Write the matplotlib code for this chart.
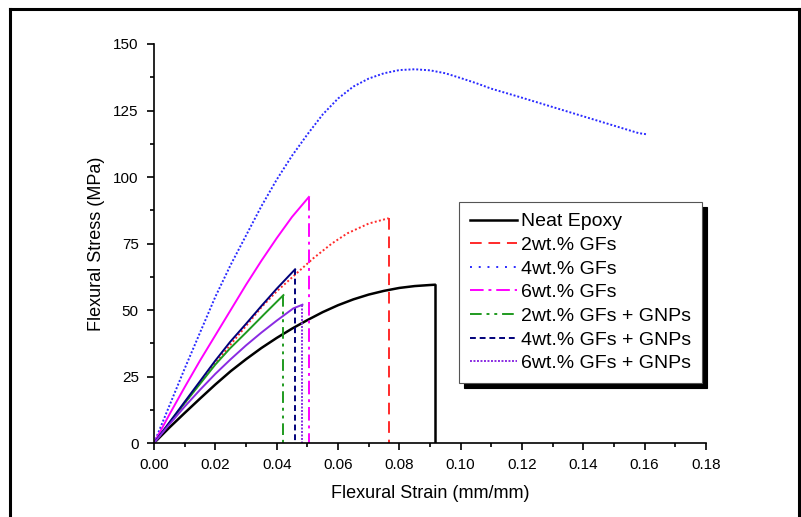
import numpy as np
import matplotlib
matplotlib.use("Agg")
import matplotlib.pyplot as plt
from matplotlib.lines import Line2D
from matplotlib.ticker import MultipleLocator

plt.rcParams.update({
    "font.family": ["Liberation Sans", "DejaVu Sans"],
    "font.size": 11})

neat_strain = [0, 0.005, 0.01, 0.015, 0.02, 0.025, 0.03, 0.035, 0.04, 0.045, 0.05,
               0.055, 0.06, 0.065, 0.07, 0.075, 0.08, 0.085, 0.09, 0.0915]
neat_stress = [0, 5.8, 11.3, 16.7, 22, 27, 31.5, 35.7, 39.5, 43, 46.2,
               49.2, 51.8, 54, 55.8, 57.2, 58.3, 59, 59.4, 59.5]

gf2_strain = [0, 0.01, 0.02, 0.0248, 0.03, 0.035, 0.04, 0.0465, 0.052, 0.058, 0.063, 0.07, 0.0765]
gf2_stress = [0, 15, 30, 36.8, 44, 51, 57, 63.8, 69.5, 75, 78.8, 82.5, 84.5]

gf4_strain = [0, 0.005, 0.01, 0.015, 0.02, 0.025, 0.03, 0.035, 0.04, 0.045, 0.05, 0.055,
              0.06, 0.065, 0.07, 0.075, 0.08, 0.085, 0.09, 0.095, 0.10, 0.105, 0.11,
              0.12, 0.13, 0.14, 0.15, 0.158, 0.161]
gf4_stress = [0, 14, 28, 41.5, 55, 67, 78, 89, 99, 108, 116, 123.5,
              129.5, 134, 137, 139, 140.2, 140.5, 140.1, 139, 137.2, 135.3, 133.2,
              129.8, 126.3, 122.8, 119.3, 116.5, 116]

gf6_strain = [0, 0.005, 0.01, 0.015, 0.02, 0.025, 0.03, 0.035, 0.04, 0.045, 0.0505]
gf6_stress = [0, 10.7, 21, 31, 40.5, 50, 59.5, 68.5, 77, 85, 92.5]

gnp2_strain = [0, 0.01, 0.02, 0.0248, 0.03, 0.036, 0.0422]
gnp2_stress = [0, 15, 29.5, 35.6, 41.5, 48.5, 55.6]

gnp4_strain = [0, 0.01, 0.02, 0.0248, 0.03, 0.035, 0.04, 0.046]
gnp4_stress = [0, 15.5, 31, 38, 44.8, 51.5, 58, 65.3]

gnp6_strain = [0, 0.005, 0.01, 0.015, 0.02, 0.025, 0.03, 0.035, 0.04, 0.0454, 0.0484]
gnp6_stress = [0, 7, 13.7, 20, 26, 31.5, 36.7, 41.5, 46, 50.6, 52]

labels = ['Neat Epoxy', '2wt.% GFs', '4wt.% GFs', '6wt.% GFs',
          '2wt.% GFs + GNPs', '4wt.% GFs + GNPs', '6wt.% GFs + GNPs']

# (strain, stress, Farbe, Kurvenstil, Bruchstil, Bruch?)
series = [
    (neat_strain, neat_stress, 'black', '-', '-', True),
    (gf2_strain, gf2_stress, '#ff2a2a', (0, (1, 1.2)), (0, (6, 3.5)), True),
    (gf4_strain, gf4_stress, '#2a2aff', (0, (1, 1)), (0, (1, 3.5)), False),
    (gf6_strain, gf6_stress, '#ff00ff', '-', (0, (7, 2.5, 1.5, 2.5)), True),
    (gnp2_strain, gnp2_stress, '#1f9a1f', '-', (0, (6, 2.5, 1.5, 2.5, 1.5, 2.5)), True),
    (gnp4_strain, gnp4_stress, '#00007a', '-', (0, (3, 2)), True),
    (gnp6_strain, gnp6_stress, '#8a2be2', '-', (0, (1, 0.8)), True),
]

fig = plt.figure(figsize=(8.01, 5.17), dpi=100)
ax = fig.add_axes([0.1923, 0.1431, 0.6891, 0.7718])

handles = []
for strain, stress, col, cstyle, dstyle, brk in series:
    lw = 1.8 if col == 'black' else 1.4
    ax.plot(strain, stress, color=col, ls=cstyle, lw=lw)
    if brk:
        ax.plot([strain[-1], strain[-1]], [stress[-1], 0], color=col, ls=dstyle, lw=lw)
    handles.append(Line2D([], [], color=col, ls=dstyle, lw=lw))

ax.set_xlim(0, 0.18)
ax.set_ylim(0, 150)
ax.xaxis.set_major_locator(MultipleLocator(0.02))
ax.xaxis.set_minor_locator(MultipleLocator(0.01))
ax.yaxis.set_major_locator(MultipleLocator(25))
ax.yaxis.set_minor_locator(MultipleLocator(12.5))
ax.xaxis.set_major_formatter(plt.FormatStrFormatter('%.2f'))
for s in ['top', 'right']:
    ax.spines[s].set_visible(False)
for s in ['left', 'bottom']:
    ax.spines[s].set_linewidth(1.2)
ax.tick_params(which='major', direction='out', length=5, width=1.2, labelsize=11, pad=6)
ax.tick_params(which='minor', direction='out', length=3, width=1.2)
ax.set_xlabel('Flexural Strain (mm/mm)', fontsize=13, labelpad=9)
ax.set_ylabel('Flexural Stress (MPa)', fontsize=13, labelpad=6)

leg = ax.legend(handles, labels, loc='upper left', bbox_to_anchor=(0.5525, 0.604),
                borderaxespad=0, fontsize=14, handlelength=2.45, handletextpad=0.2,
                labelspacing=0.31, borderpad=0.55, fancybox=False, framealpha=1,
                shadow={'color': 'black', 'alpha': 1, 'ox': 3.5, 'oy': -3.5})
leg.get_frame().set_edgecolor('#555555')
leg.get_frame().set_linewidth(0.8)

# Rahmen um die Abbildung
for xs, ys in [([0.0125, 0.0125], [0, 0.983]), ([0.0125, 0.998], [0.983, 0.983]),
               ([0.998, 0.998], [0.983, 0])]:
    fig.add_artist(Line2D(xs, ys, color='black', lw=2.2, transform=fig.transFigure))

plt.savefig('out.png', dpi=100)
